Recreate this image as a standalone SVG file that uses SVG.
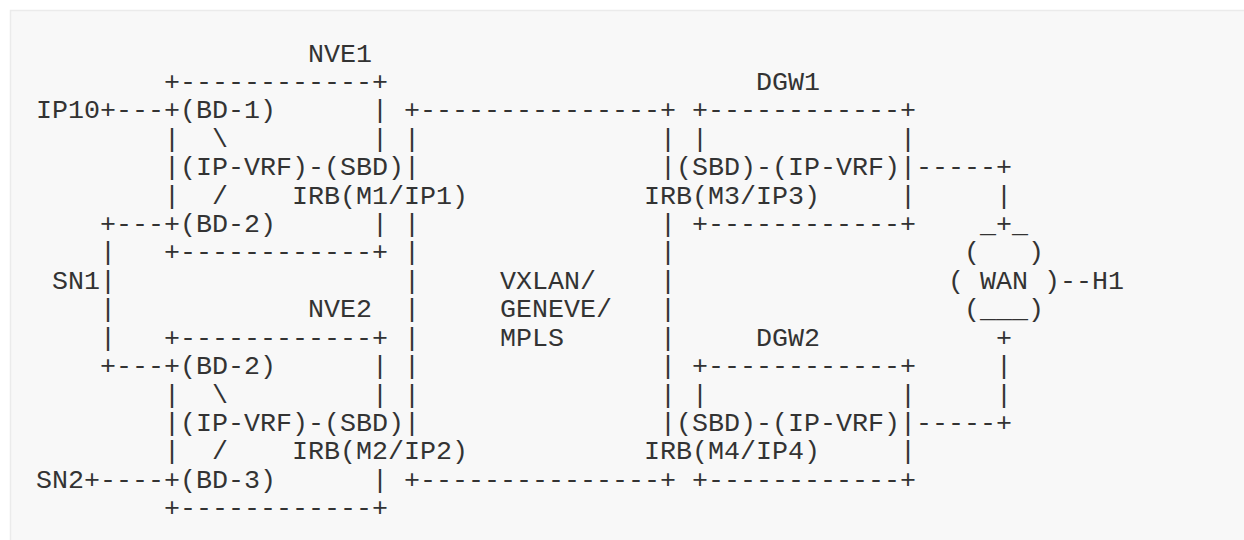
<svg xmlns="http://www.w3.org/2000/svg" width="1244" height="540" viewBox="0 0 1244 540" xml:space="preserve">
<style>
text { font-family: "Liberation Mono", "DejaVu Sans Mono", monospace; font-size: 26.67px; fill: #333333; white-space: pre; }
</style>
<rect x="0" y="0" width="1244" height="540" fill="#ffffff"/>
<rect x="10.5" y="10.5" width="1260" height="560" fill="#f8f8f8" stroke="#ebebeb" stroke-width="1.5"/>
<g id="connectors">
<text x="100" y="118.3">+---</text>
<text x="404" y="118.3">+---------------+</text>
<text x="404" y="146.8">|</text><text x="660" y="146.8">|</text>
<text x="404" y="175.2">|</text><text x="660" y="175.2">|</text>
<text x="916" y="175.2">-----+</text>
<text x="996" y="203.6">|</text>
<text x="100" y="232.0">+---</text><text x="404" y="232.0">|</text><text x="660" y="232.0">|</text>
<text x="100" y="260.4">|</text><text x="404" y="260.4">|</text><text x="660" y="260.4">|</text>
<text x="100" y="288.9">|</text><text x="404" y="288.9">|</text><text x="660" y="288.9">|</text>
<text x="1060" y="288.9">--</text>
<text x="100" y="317.3">|</text><text x="404" y="317.3">|</text><text x="660" y="317.3">|</text>
<text x="100" y="345.7">|</text><text x="404" y="345.7">|</text><text x="660" y="345.7">|</text>
<text x="100" y="374.1">+---</text><text x="404" y="374.1">|</text><text x="660" y="374.1">|</text><text x="996" y="374.1">|</text>
<text x="404" y="402.5">|</text><text x="660" y="402.5">|</text><text x="996" y="402.5">|</text>
<text x="404" y="430.9">|</text><text x="660" y="430.9">|</text>
<text x="916" y="430.9">-----+</text>
<text x="84" y="487.8">+----</text>
<text x="404" y="487.8">+---------------+</text>
</g>
<g id="nve1">
<text x="308" y="61.5">NVE1</text>
<text x="164" y="89.9">+------------+</text>
<text x="164" y="118.3">+(BD-1)</text><text x="372" y="118.3">|</text>
<text x="164" y="146.8">|  \</text><text x="372" y="146.8">|</text>
<text x="164" y="175.2">|(IP-VRF)-(SBD)</text>
<text x="164" y="203.6">|  /    IRB(M1/IP1)</text>
<text x="164" y="232.0">+(BD-2)</text><text x="372" y="232.0">|</text>
<text x="164" y="260.4">+------------+</text>
</g>
<g id="nve2">
<text x="308" y="317.3">NVE2</text>
<text x="164" y="345.7">+------------+</text>
<text x="164" y="374.1">+(BD-2)</text><text x="372" y="374.1">|</text>
<text x="164" y="402.5">|  \</text><text x="372" y="402.5">|</text>
<text x="164" y="430.9">|(IP-VRF)-(SBD)</text>
<text x="164" y="459.4">|  /    IRB(M2/IP2)</text>
<text x="164" y="487.8">+(BD-3)</text><text x="372" y="487.8">|</text>
<text x="164" y="516.2">+------------+</text>
</g>
<g id="dgw1">
<text x="756" y="89.9">DGW1</text>
<text x="692" y="118.3">+------------+</text>
<text x="692" y="146.8">|</text><text x="900" y="146.8">|</text>
<text x="676" y="175.2">(SBD)-(IP-VRF)|</text>
<text x="644" y="203.6">IRB(M3/IP3)</text><text x="900" y="203.6">|</text>
<text x="692" y="232.0">+------------+</text>
</g>
<g id="dgw2">
<text x="756" y="345.7">DGW2</text>
<text x="692" y="374.1">+------------+</text>
<text x="692" y="402.5">|</text><text x="900" y="402.5">|</text>
<text x="676" y="430.9">(SBD)-(IP-VRF)|</text>
<text x="644" y="459.4">IRB(M4/IP4)</text><text x="900" y="459.4">|</text>
<text x="692" y="487.8">+------------+</text>
</g>
<g id="wan">
<text x="980" y="232.0">_+_</text>
<text x="964" y="260.4">(   )</text>
<text x="948" y="288.9">( WAN )</text>
<text x="964" y="317.3">(___)</text>
<text x="996" y="345.7">+</text>
</g>
<g id="overlay">
<text x="500" y="288.9">VXLAN/</text>
<text x="500" y="317.3">GENEVE/</text>
<text x="500" y="345.7">MPLS</text>
</g>
<g id="ip10"><text x="36" y="118.3">IP10</text></g>
<g id="sn1"><text x="52" y="288.9">SN1</text></g>
<g id="sn2"><text x="36" y="487.8">SN2</text></g>
<g id="h1"><text x="1092" y="288.9">H1</text></g>
</svg>
